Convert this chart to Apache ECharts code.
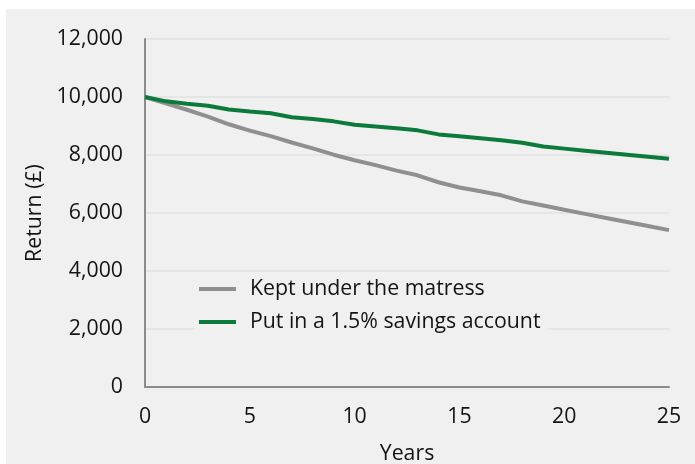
<!DOCTYPE html>
<html>
<head>
<meta charset="utf-8">
<script src="https://cdn.jsdelivr.net/npm/echarts@6/dist/echarts.min.js"></script>
<style>
html,body{margin:0;padding:0;background:#ffffff;}
#panel{position:absolute;left:6px;top:9px;width:689px;height:455px;background:#f0f0f0;}
#chart{position:absolute;left:0;top:0;width:695px;height:464px;}
</style>
</head>
<body>
<div id="panel"></div>
<div id="chart"></div>
<script>
const years = [0,1,2,3,4,5,6,7,8,9,10,11,12,13,14,15,16,17,18,19,20,21,22,23,24,25];
const mattress = [10000,9780,9560,9320,9060,8840,8650,8430,8230,8010,7820,7650,7460,7300,7060,6880,6750,6610,6400,6260,6110,5970,5830,5690,5550,5410];
const savings = [10000,9850,9770,9700,9570,9500,9440,9300,9240,9160,9040,8980,8920,8850,8710,8650,8580,8510,8420,8290,8220,8150,8080,8010,7940,7870];
const seriesNames = ['Kept under the matress','Put in a 1.5% savings account'];
const xAxisName = 'Years';
const yAxisName = 'Return (£)';

const FONT = '"Open Sans", "Noto Sans", sans-serif';
const FS = 21.3;
const TXT = '#141414';
const chart = echarts.init(document.getElementById('chart'), null, {renderer:'canvas'});
chart.setOption({
  backgroundColor: 'transparent',
  animation: false,
  textStyle: {fontFamily: FONT},
  grid: {left:145, right:26, top:39, bottom:77, containLabel:false, outerBoundsMode:'none'},
  legend: {
    orient: 'vertical',
    left: 195, top: 273,
    padding: [4, 8, 8, 4],
    backgroundColor: '#f0f0f0',
    itemWidth: 37, itemHeight: 4, itemGap: 9,
    icon: 'rect',
    textStyle: {fontFamily: FONT, fontSize: FS, color: TXT, lineHeight: 24, padding:[0,0,0,9]},
    data: seriesNames
  },
  xAxis: {
    type: 'value', min: 0, max: 25, interval: 5,
    name: xAxisName, nameLocation: 'middle', nameGap: 56,
    nameTextStyle: {fontFamily: FONT, fontSize: FS, color: TXT},
    axisLine: {show:true, lineStyle:{color:'#8c8c8c', width:2}},
    axisTick: {show:false},
    splitLine: {show:false},
    axisLabel: {fontFamily: FONT, fontSize: FS, color: TXT, margin: 19}
  },
  yAxis: {
    type: 'value', min: 0, max: 12000, interval: 2000,
    name: yAxisName, nameLocation: 'middle', nameGap: 96, nameRotate: 90,
    nameTextStyle: {fontFamily: FONT, fontSize: FS, color: TXT},
    axisLine: {show:true, lineStyle:{color:'#8c8c8c', width:2}},
    axisTick: {show:false},
    splitLine: {show:true, lineStyle:{color:'#e2e2e2', width:1.5}},
    axisLabel: {fontFamily: FONT, fontSize: FS, color: TXT, margin: 22,
      formatter: v => v.toLocaleString('en-GB')}
  },
  series: [
    {name: seriesNames[0], type:'line', data: years.map((y,i)=>[y, mattress[i]]),
     showSymbol:false, symbol:'none', lineStyle:{color:'#8f8f8f', width:4}, itemStyle:{color:'#8f8f8f'}, z:2},
    {name: seriesNames[1], type:'line', data: years.map((y,i)=>[y, savings[i]]),
     showSymbol:false, symbol:'none', lineStyle:{color:'#0b7a3b', width:4}, itemStyle:{color:'#0b7a3b'}, z:3}
  ]
});
</script>
</body>
</html>
